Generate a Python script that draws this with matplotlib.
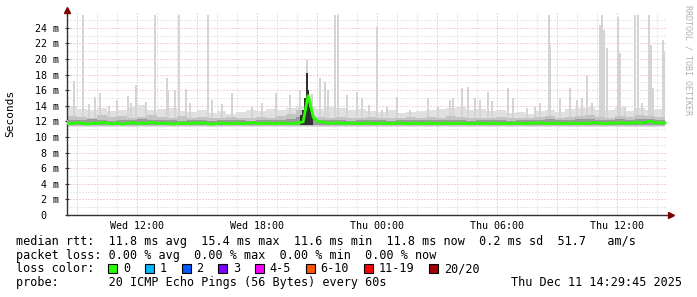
import matplotlib
matplotlib.use('Agg')
import matplotlib.pyplot as plt
import matplotlib.transforms as mtransforms
from matplotlib.patches import Rectangle
import numpy as np

# hours since Wed 08:30 -> 30h window, data stops at ~Thu 14:24
x_tick_hours = [3.5, 9.5, 15.5, 21.5, 27.5]
x_tick_labels = ['Wed 12:00', 'Wed 18:00', 'Thu 00:00', 'Thu 06:00', 'Thu 12:00']
y_tick_values = [0, 2, 4, 6, 8, 10, 12, 14, 16, 18, 20, 22, 24]
y_tick_labels = ['0  ', '2 m', '4 m', '6 m', '8 m', '10 m', '12 m', '14 m',
                 '16 m', '18 m', '20 m', '22 m', '24 m']
data_end = 29.9

# median rtt (ms), one value every ~15 min
median = [11.8, 11.7, 11.85, 11.75, 11.65, 11.8, 11.7, 11.9, 11.75, 11.7, 11.8, 11.65,
          11.75, 11.85, 11.7, 11.8, 11.75, 11.9, 11.7, 11.75, 11.8, 11.65, 11.75, 11.8,
          11.7, 11.8, 11.75, 11.85, 11.7, 11.65, 11.75, 11.8, 11.7, 11.75, 11.8, 11.7,
          11.75, 11.85, 11.7, 11.75, 11.8, 11.7, 11.75, 11.8, 11.7, 11.75, 11.8, 11.95,
          15.4, 12.5, 12.0, 11.9,
          11.8, 11.75, 11.85, 11.7, 11.75, 11.8, 11.7, 11.75, 11.8, 11.7, 11.75, 11.8,
          11.7, 11.75, 11.8, 11.75, 11.7, 11.8, 11.75, 11.7, 11.8, 11.75, 11.7, 11.8,
          11.75, 11.7, 11.8, 11.75, 11.7, 11.75, 11.8, 11.7, 11.75, 11.8, 11.7, 11.75,
          11.7, 11.8, 11.75, 11.7, 11.8, 11.75, 11.85, 11.75, 11.7, 11.8, 11.75, 11.7,
          11.8, 11.75, 11.7, 11.8, 11.75, 11.85, 11.75, 11.7, 11.8, 11.75, 11.85, 11.8,
          11.75, 11.9, 11.8, 11.85, 12.05, 11.8, 11.85, 11.8]

# smoke (ms), one value every 30 min
smoke_floor = 11.3
light_top = [14.0, 13.6, 13.4, 13.7, 13.3, 13.5, 13.8, 14.1, 13.4, 13.6, 13.7, 13.3,
             13.2, 13.4, 13.1, 13.3, 13.0, 13.2, 13.4, 13.3, 13.6, 13.4, 13.7, 14.0,
             13.8, 13.6, 13.9, 13.7, 13.5, 13.6, 13.3, 13.2, 13.4, 13.1, 13.2, 13.3,
             13.4, 13.6, 13.7, 13.9, 13.5, 13.6, 13.3, 13.4, 13.1, 13.2, 13.0, 13.3,
             13.4, 13.2, 13.6, 13.7, 13.8, 13.4, 13.5, 13.9, 13.3, 13.7, 13.4, 13.6]
mid_top = [12.7, 12.6, 12.5, 12.8, 12.6, 12.7, 12.5, 12.6, 12.8, 12.6, 12.5, 12.7,
           12.5, 12.6, 12.4, 12.5, 12.6, 12.5, 12.4, 12.6, 12.5, 12.7, 12.9, 13.4,
           12.7, 12.6, 12.5, 12.6, 12.4, 12.5, 12.6, 12.5, 12.4, 12.5, 12.6, 12.5,
           12.6, 12.5, 12.7, 12.6, 12.5, 12.4, 12.5, 12.6, 12.5, 12.4, 12.5, 12.6,
           12.7, 12.5, 12.6, 12.7, 12.8, 12.6, 12.5, 12.7, 12.6, 12.8, 12.7, 12.6]
dark_top = [12.2, 12.15, 12.25, 12.2, 12.1, 12.2, 12.15, 12.25, 12.2, 12.15, 12.2, 12.1,
            12.15, 12.2, 12.1, 12.15, 12.2, 12.15, 12.1, 12.2, 12.15, 12.2, 12.3, 12.6,
            12.3, 12.2, 12.15, 12.2, 12.1, 12.15, 12.2, 12.15, 12.1, 12.15, 12.2, 12.15,
            12.2, 12.15, 12.2, 12.15, 12.1, 12.15, 12.2, 12.15, 12.1, 12.15, 12.2, 12.2,
            12.25, 12.15, 12.2, 12.25, 12.3, 12.2, 12.15, 12.25, 12.2, 12.3, 12.25, 12.2]

# single outlier pings (hour, ms)
spike_t = [0.0, 0.35, 0.78, 1.1, 1.4, 1.65, 2.1, 2.5, 3.05, 3.2, 3.45, 3.95, 4.4, 5.0,
           5.07, 5.4, 5.6, 5.95, 6.15, 7.05, 7.25, 7.75, 8.25, 9.25, 9.75, 10.45, 11.15,
           11.65, 12.0, 12.25, 12.65, 12.9, 13.05, 13.4, 13.55, 14.0, 14.5, 14.75, 15.1,
           15.5, 15.75, 16.0, 16.5, 17.15, 18.05, 18.55, 19.15, 19.3, 19.75, 20.05, 20.4,
           20.65, 21.05, 21.25, 22.05, 22.3, 23.0, 23.4, 23.65, 24.1, 24.18, 24.65, 25.15,
           25.5, 25.75, 26.0, 26.25, 26.65, 26.75, 26.85, 27.0, 27.55, 27.65, 27.9, 28.4,
           28.55, 28.75, 29.1, 29.2, 29.3, 29.8, 29.85]
spike_ms = [18.4, 17.2, 25.7, 14.2, 15.1, 15.6, 14.0, 14.8, 15.3, 14.4, 16.7, 14.5, 25.7, 17.6,
            16.0, 16.0, 25.7, 16.2, 14.4, 25.7, 14.8, 14.2, 15.7, 13.9, 14.3, 15.7, 15.4,
            16.0, 19.9, 15.5, 17.6, 17.1, 16.0, 25.7, 25.7, 15.4, 15.8, 15.0, 14.1,
            24.1, 13.5, 13.9, 15.1, 13.5, 15.0, 13.9, 14.8, 15.0, 16.3, 16.4, 15.0,
            14.8, 15.8, 14.6, 16.3, 15.0, 13.7, 13.9, 14.4, 25.7, 21.8, 15.0, 16.3,
            14.8, 15.0, 18.0, 14.4, 24.4, 25.7, 23.7, 21.4, 25.4, 20.8, 13.9, 25.7,
            25.7, 14.4, 25.7, 21.8, 16.3, 22.5, 20.9]

# dense dark smoke at the latency bump
dark_spike_t = [11.7, 11.8, 11.9, 11.98, 12.07, 12.15, 12.25]
dark_spike_ms = [12.8, 13.5, 15.0, 18.2, 16.0, 13.8, 12.9]

loss_labels = ['0', '1', '2', '3', '4-5', '6-10', '11-19', '20/20']
loss_colors = ['#26ff00', '#00b8ff', '#0059ff', '#7e00ff', '#ff00ff', '#ff5500', '#ff0000', '#a00000']

line_rtt = 'median rtt:  11.8 ms avg  15.4 ms max  11.6 ms min  11.8 ms now  0.2 ms sd  51.7   am/s'
line_loss = 'packet loss: 0.00 % avg  0.00 % max  0.00 % min  0.00 % now'
line_probe = 'probe:       20 ICMP Echo Pings (56 Bytes) every 60s'
stamp = 'Thu Dec 11 14:29:45 2025'

MONO = 'DejaVu Sans Mono'
W, H = 697, 297
fig = plt.figure(figsize=(W / 100, H / 100), dpi=100)
fig.patch.set_facecolor('white')


def fx(px):
    return px / W


def fy(py):
    return 1 - py / H


ax = fig.add_axes([fx(67), fy(215), fx(667) - fx(67), fy(13) - fy(215)])
ax.set_xlim(0, 30)
ax.set_ylim(0, 25.9)

# grid
for v in range(1, 26):
    major = v % 2 == 0
    ax.axhline(v, color='#e8a8a8' if major else '#d0d0d0', lw=0.72,
               dashes=(1, 2), zorder=0.5)
for h in np.arange(0.5, 30, 1.0):
    major = (h - 0.5) % 3 == 0
    ax.axvline(h, color='#e8a8a8' if major else '#d0d0d0', lw=0.72,
               dashes=(1, 2), zorder=0.5)

# smoke
t_edges = np.linspace(0, data_end, len(light_top) + 1)
ax.fill_between(t_edges, smoke_floor, np.append(light_top, light_top[-1]), step='post',
                color='#e0e0e0', lw=0, zorder=1)
ax.bar(spike_t, np.array(spike_ms) - smoke_floor, bottom=smoke_floor, width=0.09,
       color='#d4d4d4', lw=0, zorder=1)
ax.fill_between(t_edges, 11.35, np.append(mid_top, mid_top[-1]), step='post',
                color='#c4c4c4', lw=0, zorder=2)
ax.fill_between(t_edges, 11.5, np.append(dark_top, dark_top[-1]), step='post',
                color='#9a9a9a', lw=0, zorder=3)
ax.bar(dark_spike_t, np.array(dark_spike_ms) - 11.6, bottom=11.6, width=0.09,
       color='#303030', lw=0, zorder=3)

# median
t_med = np.linspace(0, data_end, len(median))
ax.plot(t_med, median, color='#26ff00', lw=2.0, zorder=4, solid_joinstyle='miter')

# axes
for s in ['top', 'right']:
    ax.spines[s].set_visible(False)
for s in ['left', 'bottom']:
    ax.spines[s].set_color('#303030')
    ax.spines[s].set_linewidth(1.0)
ax.set_xticks(x_tick_hours)
ax.set_xticklabels(x_tick_labels, family=MONO, fontsize=7.2)
ax.set_yticks(y_tick_values)
ax.set_yticklabels(y_tick_labels, family=MONO, fontsize=7.2)
ax.tick_params(axis='x', direction='in', length=0, pad=4)
ax.tick_params(axis='y', direction='inout', length=3, pad=4, color='#303030')
ax.set_facecolor('white')

arrow_up = mtransforms.offset_copy(ax.transAxes, fig=fig, x=0, y=3, units='dots')
ax.plot([0], [1], marker='^', color='#800000', markersize=5, transform=arrow_up, clip_on=False)
arrow_right = mtransforms.offset_copy(ax.transAxes, fig=fig, x=4, y=0, units='dots')
ax.plot([1], [0], marker='>', color='#800000', markersize=5, transform=arrow_right, clip_on=False)

fig.text(fx(10), fy(113.5), 'Seconds', rotation=90, family=MONO, fontsize=8,
         ha='center', va='center')
fig.text(fx(688), fy(60), 'RRDTOOL / TOBI OETIKER', rotation=270, family=MONO,
         fontsize=6, color='#b0b0b0', ha='center', va='center')

# legend block
fig.text(fx(16), fy(241), line_rtt, family=MONO, fontsize=8.5, ha='left', va='center')
fig.text(fx(16), fy(255), line_loss, family=MONO, fontsize=8.5, ha='left', va='center')
fig.text(fx(16), fy(268.5), 'loss color:', family=MONO, fontsize=8.5, ha='left', va='center')
char_w = 7.1
bx = 108.3
for lab, col in zip(loss_labels, loss_colors):
    fig.add_artist(Rectangle((fx(bx), fy(273)), fx(9), 9 / H, transform=fig.transFigure,
                             facecolor=col, edgecolor='black', lw=0.8))
    fig.text(fx(bx + 14.7), fy(268.5), lab, family=MONO, fontsize=8.5, ha='left', va='center')
    bx += (len(lab) + 4.17) * char_w
fig.text(fx(16), fy(282.5), line_probe, family=MONO, fontsize=8.5, ha='left', va='center')
fig.text(fx(682), fy(282.5), stamp, family=MONO, fontsize=8.5, ha='right', va='center')

fig.savefig('out.png', dpi=100, facecolor='white')
